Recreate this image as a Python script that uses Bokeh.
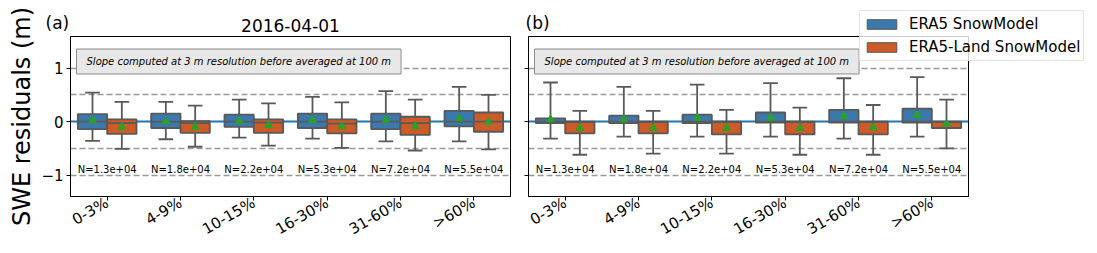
import math
from bokeh.plotting import figure
from bokeh.layouts import row
from bokeh.models import FixedTicker, Label, Legend, LegendItem, ColumnDataSource, Range1d
from bokeh.core.properties import value
from bokeh.embed import file_html
from bokeh.resources import INLINE

# ---------------- data ----------------
categories = ["0-3%", "4-9%", "10-15%", "16-30%", "31-60%", ">60%"]
n_labels = ["N=1.3e+04", "N=1.8e+04", "N=2.2e+04", "N=5.3e+04", "N=7.2e+04", "N=5.5e+04"]
series_names = ["ERA5 SnowModel", "ERA5-Land SnowModel"]
panel_tags = ["(a)", "(b)"]
title_text = "2016-04-01"
ref_dashed = [-1.0, -0.5, 0.5, 1.0]
ref_zero = [0.0]
yticks = [-1, 0, 1]
ytick_labels = ["\u22121", "0", "1"]
note_text = "Slope computed at 3 m resolution before averaged at 100 m"

# panel (a) 2016-04-01
a_era5_whislo = [-0.36, -0.33, -0.30, -0.32, -0.37, -0.37]
a_era5_q1 = [-0.14, -0.12, -0.10, -0.12, -0.14, -0.09]
a_era5_med = [0.00, 0.00, 0.00, 0.00, 0.00, 0.00]
a_era5_q3 = [0.14, 0.15, 0.13, 0.15, 0.15, 0.20]
a_era5_whishi = [0.54, 0.37, 0.41, 0.46, 0.57, 0.65]
a_era5_mean = [0.02, 0.00, 0.01, 0.03, 0.03, 0.06]

a_land_whislo = [-0.51, -0.47, -0.45, -0.49, -0.54, -0.52]
a_land_q1 = [-0.23, -0.21, -0.21, -0.22, -0.25, -0.19]
a_land_med = [-0.03, -0.03, -0.02, -0.04, -0.03, 0.00]
a_land_q3 = [0.04, 0.01, 0.04, 0.04, 0.09, 0.17]
a_land_whishi = [0.37, 0.30, 0.34, 0.36, 0.41, 0.50]
a_land_mean = [-0.10, -0.10, -0.07, -0.09, -0.09, -0.01]

# panel (b)
b_era5_whislo = [-0.32, -0.28, -0.28, -0.28, -0.32, -0.28]
b_era5_q1 = [-0.03, -0.03, -0.03, -0.02, -0.02, -0.02]
b_era5_med = [0.00, 0.00, 0.00, 0.00, 0.00, 0.00]
b_era5_q3 = [0.06, 0.11, 0.13, 0.17, 0.22, 0.24]
b_era5_whishi = [0.73, 0.65, 0.69, 0.72, 0.81, 0.83]
b_era5_mean = [0.04, 0.04, 0.07, 0.07, 0.10, 0.12]

b_land_whislo = [-0.62, -0.60, -0.60, -0.62, -0.62, -0.50]
b_land_q1 = [-0.22, -0.22, -0.24, -0.24, -0.24, -0.12]
b_land_med = [-0.01, -0.01, -0.01, -0.01, -0.01, -0.01]
b_land_q3 = [0.00, 0.00, 0.00, 0.00, 0.00, 0.00]
b_land_whishi = [0.20, 0.20, 0.22, 0.26, 0.31, 0.41]
b_land_mean = [-0.12, -0.12, -0.12, -0.12, -0.11, -0.04]

# ---------------- style ----------------
FONT = "DejaVu Sans"
C_ERA5 = "#3b78ab"
C_LAND = "#cc5b27"
C_LINE = "#595959"
C_MEAN = "#2ca02c"
BOX_W = 0.4
CAP_W = 0.2
OFFSETS = [-0.2, 0.2]
N_Y = -0.9
YR = (-1.40, 1.59)
FIG_H = 253


def make_fig(width, min_left, min_right):
    p = figure(width=width, height=FIG_H,
               min_border_left=min_left, min_border_right=min_right,
               min_border_top=36, min_border_bottom=57,
               x_range=(-0.5, len(categories) - 0.5), y_range=YR,
               output_backend="svg", toolbar_location=None,
               background_fill_color="white", border_fill_color="white")
    p.outline_line_color = "black"
    p.outline_line_width = 1
    p.xgrid.visible = False
    p.ygrid.visible = False
    for ax in (p.xaxis[0], p.yaxis[0]):
        ax.major_tick_in = 0
        ax.major_tick_out = 4
        ax.minor_tick_line_color = None
        ax.axis_line_color = "black"
        ax.major_tick_line_color = "black"
        ax.major_label_text_font = FONT
        ax.major_label_text_font_size = "15px"
        ax.major_label_text_color = "black"
    p.xaxis.ticker = FixedTicker(ticks=list(range(len(categories))))
    p.xaxis.major_label_overrides = {i: c for i, c in enumerate(categories)}
    p.xaxis.major_label_orientation = math.pi / 6
    p.xaxis.major_label_standoff = 1
    p.yaxis.ticker = FixedTicker(ticks=yticks)
    p.yaxis.major_label_standoff = 3
    return p


def draw_panel(p, stats_list, colors):
    p.hspan(y=ref_dashed, line_color="#999999", line_width=1.5, line_dash="6 3")
    p.hspan(y=ref_zero, line_color="#1f77b4", line_width=2)
    for k, (st, col) in enumerate(zip(stats_list, colors)):
        whislo, q1, med, q3, whishi, mean = st
        xs = [i + OFFSETS[k] for i in range(len(categories))]
        src = ColumnDataSource(dict(
            x=xs, x_cl=[x - CAP_W / 2 for x in xs], x_cr=[x + CAP_W / 2 for x in xs],
            x_bl=[x - BOX_W / 2 for x in xs], x_br=[x + BOX_W / 2 for x in xs],
            whislo=whislo, q1=q1, med=med, q3=q3, whishi=whishi, mean=mean))
        p.segment(x0="x", y0="whislo", x1="x", y1="whishi", source=src,
                  line_color=C_LINE, line_width=1.8)
        p.segment(x0="x_cl", y0="whislo", x1="x_cr", y1="whislo", source=src,
                  line_color=C_LINE, line_width=1.8)
        p.segment(x0="x_cl", y0="whishi", x1="x_cr", y1="whishi", source=src,
                  line_color=C_LINE, line_width=1.8)
        p.vbar(x="x", width=BOX_W, bottom="q1", top="q3", source=src,
               fill_color=col, line_color=C_LINE, line_width=1.8)
        p.segment(x0="x_bl", y0="med", x1="x_br", y1="med", source=src,
                  line_color=C_LINE, line_width=1.8)
        p.scatter(x="x", y="mean", source=src, marker="triangle", size=8,
                  fill_color=C_MEAN, line_color=C_MEAN)
    nsrc = ColumnDataSource(dict(x=list(range(len(categories))),
                                 y=[N_Y] * len(categories), t=n_labels))
    p.text(x="x", y="y", text="t", source=nsrc, text_align="center",
           text_baseline="middle", text_font=value(FONT), text_font_size="10px",
           text_color="black")
    note = Label(x=6, y=135, x_units="screen", y_units="screen", text=note_text,
                 text_font=FONT, text_font_size="10px", text_font_style="italic",
                 text_align="left", text_baseline="middle", text_color="black",
                 background_fill_color="#e8e8e8", background_fill_alpha=1.0,
                 border_line_color="#8c8c8c", border_line_width=1, padding=(10, 7))
    p.add_layout(note)


# ---------- left panel ----------
p1 = make_fig(515, 70, 5)
p1.title.text = title_text
p1.title.align = "center"
p1.title.text_font = FONT
p1.title.text_font_size = "17px"
p1.title.text_font_style = "normal"
p1.title.text_color = "black"
p1.title.standoff = 9
p1.yaxis.major_label_overrides = {t: l for t, l in zip(yticks, ytick_labels)}
p1.yaxis.axis_label = "SWE residuals (m)"
p1.yaxis.axis_label_text_font = FONT
p1.yaxis.axis_label_text_font_size = "24px"
p1.yaxis.axis_label_text_font_style = "normal"
p1.yaxis.axis_label_text_color = "black"
p1.yaxis.axis_label_standoff = 2
draw_panel(p1, [
    (a_era5_whislo, a_era5_q1, a_era5_med, a_era5_q3, a_era5_whishi, a_era5_mean),
    (a_land_whislo, a_land_q1, a_land_med, a_land_q3, a_land_whishi, a_land_mean),
], [C_ERA5, C_LAND])

# ---------- right panel (canvas reaches the window's right edge) ----------
p2 = make_fig(582, 13, 129)
p2.yaxis.major_label_overrides = {t: "" for t in yticks}
draw_panel(p2, [
    (b_era5_whislo, b_era5_q1, b_era5_med, b_era5_q3, b_era5_whishi, b_era5_mean),
    (b_land_whislo, b_land_q1, b_land_med, b_land_q3, b_land_whishi, b_land_mean),
], [C_ERA5, C_LAND])

# ---------- transparent overlay strip (page x 40..1090, y 8..62): panel tags + legend ----------
OV_W, OV_H, OV_X, OV_Y = 1050, 54, 40, 8
ov = figure(width=OV_W, height=OV_H, title=None,
            min_border_left=0, min_border_right=0, min_border_top=0, min_border_bottom=0,
            frame_align=False,
            x_axis_type=None, y_axis_type=None,
            x_range=Range1d(-0.5, 0.5), y_range=Range1d(-1, 1),
            output_backend="svg", toolbar_location=None,
            background_fill_alpha=0, border_fill_alpha=0,
            styles={"position": "absolute", "left": f"{OV_X}px", "top": f"{OV_Y}px",
                    "z-index": "10", "max-width": "none"})
ov.outline_line_color = None
ov.grid.visible = False
leg_renderers = []
for q1s, q3s, c in ((b_era5_q1, b_era5_q3, C_ERA5), (b_land_q1, b_land_q3, C_LAND)):
    r = ov.vbar(x=list(range(len(categories))), bottom=q1s, top=q3s, width=BOX_W,
                fill_color=c, line_color=C_LINE, line_width=1, visible=False)
    leg_renderers.append(r)
for tag, tx in zip(panel_tags, (5, 485)):
    ov.add_layout(Label(x=tx, y=40, x_units="screen", y_units="screen", text=tag,
                        text_font=FONT, text_font_size="17px", text_baseline="middle",
                        text_color="black"))
legend = Legend(items=[LegendItem(label=value(n), renderers=[r])
                       for n, r in zip(series_names, leg_renderers)],
                location=(819, 1), orientation="vertical",
                label_text_font=FONT, label_text_font_size="15px", label_text_color="black",
                glyph_width=37, glyph_height=12, label_height=20, label_standoff=9,
                spacing=3, padding=3, margin=0,
                background_fill_color="white", background_fill_alpha=0.8,
                border_line_color="#cccccc", border_line_width=1)
ov.add_layout(legend)

layout = row(p1, p2, ov, spacing=0)
open("out.html", "w").write(file_html(layout, INLINE))
